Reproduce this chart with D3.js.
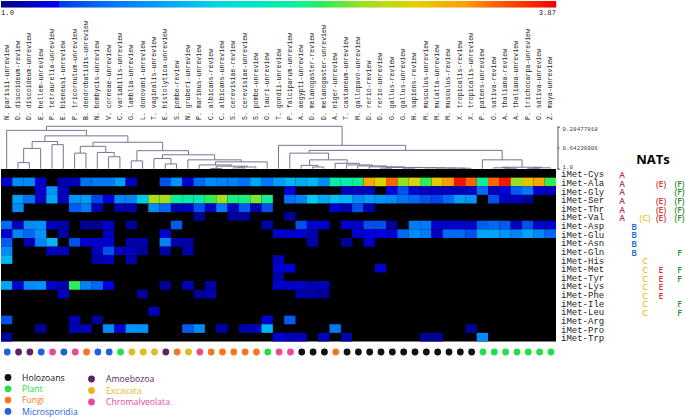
<!DOCTYPE html>
<html>
<head>
<meta charset="utf-8">
<script src="https://cdn.jsdelivr.net/npm/d3@7"></script>
<style>
  body { margin: 0; background: #fff; }
  svg { display: block; }
  .mono { font-family: "Liberation Mono", monospace; fill: #222; }
  .sans { font-family: "Open Sans", "Noto Sans", sans-serif; }
</style>
</head>
<body>
<svg id="chart" width="685" height="418"></svg>
<script>
// 1: DATA
const species = ["N. parisii-unreview","D. discoideum-review","D. discoideum-unreview","E. hellem-unreview","P. tetraurelia-unreview","E. bieneusi-unreview","P. tricornutum-unreview","B. dendrobatidis-unreview","N. bombycis-unreview","V. corneae-unreview","C. variabilis-unreview","G. lamblia-unreview","L. donovani-unreview","T. vaginalis-unreview","E. histolytica-unreview","S. pombe-review","N. gruberi-unreview","P. marinus-unreview","C. albicans-review","C. albicans-unreview","S. cerevisiae-review","S. cerevisiae-unreview","S. pombe-unreview","O. tauri-unreview","T. gondii-unreview","P. falciparum-unreview","A. aegypti-unreview","D. melanogaster-review","D. melanogaster-unreview","A. niger-unreview","T. castaneum-unreview","M. gallopavo-unreview","D. rerio-review","D. rerio-unreview","G. gallus-review","G. gallus-unreview","H. sapiens-review","M. musculus-unreview","M. mulatta-unreview","M. musculus-review","X. tropicalis-review","X. tropicalis-unreview","P. patens-unreview","O. sativa-review","A. thaliana-review","A. thaliana-unreview","P. trichocarpa-unreview","O. sativa-unreview","Z. maya-unreview"];

const trnas = ["iMet-Cys","iMet-Ala","iMet-Gly","iMet-Ser","iMet-Thr","iMet-Val","iMet-Asp","iMet-Glu","iMet-Asn","iMet-Gln","iMet-His","iMet-Met","iMet-Tyr","iMet-Lys","iMet-Phe","iMet-Ile","iMet-Leu","iMet-Arg","iMet-Pro","iMet-Trp"];

// one row per tRNA, one value per species, 0 = no value (black)
const heatValues = [
  [0,0,0,0,0,0,0,0,0,0,0,0,0,0,0,0,0,0,0,0,0,0,0,0,0,0,0,0,0,0,0,0,0,0,0,0,0,0,0,0,0,0,0,0,0,0,0,0,0],
  [1.2,1.7,1.7,1.2,0,1.1,1.15,1.55,1.6,1.6,1.8,1.15,0,0,1.4,1.75,1.2,1.5,1.7,1.65,1.65,1.55,1.85,1.6,1.8,1.95,1.9,1.95,1.7,2.45,2.45,2.55,3.35,3.1,3.55,2.85,3.1,2.65,3.15,3.4,3.8,3.55,2.5,3.55,3.8,2.85,3.2,3.35,2.67],
  [0,0,0,1.2,1.75,1.15,0,0,0,0,0,0,0,0,0,0,0,0,0,0,0,0,0,0,0,1.25,0,0,0,0,1.15,1.15,1.15,0,1.25,1.4,1.2,1.15,1.15,1.15,1.15,1.15,1.5,1.15,1.25,1.45,1.6,1.2,1.15],
  [0,1.8,1.55,1.15,1.85,1.15,1.75,1.8,1.35,1.2,1.65,1.65,2.05,2.9,2.9,2.5,2.45,2.45,2.67,2.87,2.58,2.58,2.8,2.55,0,1.55,1.65,2.05,1.85,2.0,1.95,1.7,1.8,1.75,1.7,1.55,1.5,1.4,1.35,1.5,1.8,1.75,0,1.4,1.15,1.15,1.05,0,0],
  [0,1.7,0,0,0,0,1.45,1.6,1.1,0,1.1,1.1,0,1.7,1.5,1.1,1.15,1.4,1.15,1.6,1.15,1.45,1.1,1.4,0,0,0,0,0,1.2,1.1,1.4,1.1,0,0,0,0,0,0,0,0,0,0,0,0,0,0,0,0],
  [0,0,0,0,0,0,0,0,0,0,0,0,0,0,0,0,0,1.05,0,0,1.05,1.05,0,0,0,1.05,0,0,0,0,0,0,0,0,0,0,0,0,0,0,0,0,0,0,0,0,0,0,0],
  [1.5,1.15,1.7,1.75,1.15,1.1,0,1.05,1.05,1.2,0,1.05,0,0,0,1.45,0,0,0,0,0,0,0,1.1,0,0,1.4,1.2,1.2,0,1.2,1.2,1.4,1.4,1.05,0,1.6,1.6,1.2,1.2,1.2,1.2,1.45,1.5,1.45,1.15,1.4,1.2,1.2],
  [1.2,1.65,1.5,1.75,0,1.05,0,0,0,1.15,0,0,0,0,1.2,0,0,0,0,0,0,0,0,0,1.2,1.2,1.2,1.1,0,0,0,1.2,1.25,1.25,1.2,1.5,1.7,1.6,1.15,1.5,1.5,1.4,1.85,1.85,1.75,1.65,1.85,1.7,1.5],
  [1.45,0,1.1,1.65,1.95,0,1.4,1.2,1.2,1.2,0,1.1,1.1,0,1.65,1.1,1.1,0,0,0,0,0,0,0,0,0,0,1.1,0,0,1.05,0,1.2,0,0,0,0,0,0,0,0,0,0,0,0,0,0,0,0],
  [1.7,0,0,0,1.15,1.15,0,0,1.15,1.4,1.15,1.15,1.05,0,1.1,0,1.1,0,0,0,0,0,0,0,0,0,0,0,0,0,0,0,0,0,0,0,0,0,0,0,0,0,0,0,0,0,0,0,0],
  [1.95,0,0,0,0,0,0,0,1.1,1.15,0,1.1,0,0,0,0,0,0,0,0,0,0,0,0,1.15,0,0,0,0,0,0,0,0,0,0,0,0,0,0,0,0,0,0,0,0,0,0,0,0],
  [0,0,0,0,0,0,0,0,0,0,0,0,0,0,0,0,0,0,0,0,0,0,0,0,1.2,1.2,0,0,0,0,0,0,0,1.2,0,0,0,0,0,0,0,0,0,0,0,0,0,0,0],
  [0,0,0,0,0,0,0,0,0,0,0,0,0,0,0,0,0,0,0,0,0,0,0,0,1.1,0,0,0,0,0,0,0,0,0,0,0,0,0,0,0,0,0,0,0,0,0,0,0,0],
  [1.85,1.2,1.7,1.75,1.2,1.1,2.65,1.65,1.5,1.25,0,0,0,0,1.05,0,1.15,0,1.1,0,0,0,0,0,1.2,1.2,1.2,1.1,1.15,0,0,0,0,0,0,0,0,0,0,0,0,0,0,0,0,0,0,0,0],
  [0,0,0,0,0,1.15,0,0,0,0,0,0,1.05,0,0,0,0,1.05,1.1,0,0,0,0,0,0,0,1.1,1.1,1.05,0,0,0,0,0,0,0,0,0,0,0,0,0,0,0,0,0,0,0,0],
  [0,0,0,0,0,0,0,0,0,0,0,0,0,0,0,0,0,0,0,0,0,0,0,0,0,0,0,0,0,0,0,0,0,0,0,0,0,0,0,0,0,0,0,0,0,0,0,0,0],
  [0,0,0,0,0,0,0,0,0,0,0,0,0,1.15,0,0,0,0,0,0,0,0,0,0,0,0,0,0,0,0,0,0,0,0,0,0,0,0,0,0,0,0,0,0,0,0,0,0,0],
  [1.4,0,0,0,0,0,1.1,0,1.05,0,0,0,0,0,0,0,0,0,0,0,0,0,0,1.2,0,1.45,0,0,0,0,0,0,0,0,0,0,0,0,0,0,0,0,0,0,0,0,0,0,0],
  [0,0,0,1.05,0,0,1.15,1.15,0,1.7,1.2,1.75,1.75,0,0,0,1.45,1.7,0,1.1,0,1.1,1.15,1.95,0,0,0,0,0,1.6,0,0,0,0,0,0,0,0,0,0,0,1.05,0,0,0,0,0,0,0],
  [1.05,0,0,0,0,0,0,0,0,0,0,0,0,0,0,0,0,0,0,0,0,0,0,0,1.2,1.15,1.15,0,1.15,0,1.1,0,0,0,0,0,0,1.05,1.05,0,0,0,1.7,0,0,0,0,0,0]
];

// colour bar stops
const colorStops = [1, 1.299, 1.3, 1.5, 1.77, 2.0, 2.13, 2.35, 2.55, 2.67, 2.87, 3.13, 3.39, 3.56, 3.87];
const colorRange = ["#000088","#0000f0","#0038e8","#0068f4","#0098fa","#00c0f4","#00d8e0","#00e8c0","#10f090","#30ec50","#a0e020","#e0d000","#ffa000","#ff6000","#f00000"];

// dendrogram: [distance, left, right], a number is a species column
const treeLeft = [0.538, [0.654, [0.896, 1, 2], 3], [0.590, 4, 5]];
const treeMiddle = [0.550,
  [0.619, [0.735, 6, 7], [0.723, 8, [0.797, 9, 10]]],
  [0.693, [0.867, 11, 12],
    [0.763, [0.827, 13, [0.919, 14, 15]],
      [0.849, 16, [0.884, [0.936, 17, [0.957, [0.995, 18, 19], [0.971, [0.985, 20, 21], 22]]], 23]]]]];
const treeAnimal = [0.735, 25, [0.849, [0.943, 26, [0.971, 27, 28]],
  [0.908, 29, [0.936, 30, [0.953, 31, [0.968, 32, [0.978, [0.99, 33, 34],
    [0.982, [0.99, 35, 36], [0.985, 37, [0.988, 38, [0.99, 39, [0.992, 40, 41]]]]]]]]]]]];
const treePlant = [0.849, 42, [0.975, [0.985, 43, [0.992, 44, 45]], [0.985, [0.992, 46, 47], 48]]];
const tree = [0.278, [0.347, 0, [0.441, treeLeft, treeMiddle]], [0.602, 24, [0.688, treeAnimal, treePlant]]];

const distTicks = [0.28477818, 0.64238906, 1.0];
const distLabels = ["0.28477818", "0.64238906", "1.0"];

// taxon group per species column
const groups = ["Microsporidia","Amoebozoa","Amoebozoa","Microsporidia","Chromalveolata","Microsporidia","Chromalveolata","Fungi","Microsporidia","Microsporidia","Plant","Excavata","Excavata","Excavata","Amoebozoa","Fungi","Excavata","Chromalveolata","Fungi","Fungi","Fungi","Fungi","Fungi","Plant","Chromalveolata","Chromalveolata","Holozoans","Holozoans","Holozoans","Fungi","Holozoans","Holozoans","Holozoans","Holozoans","Holozoans","Holozoans","Holozoans","Holozoans","Holozoans","Holozoans","Holozoans","Holozoans","Plant","Plant","Plant","Plant","Plant","Plant","Plant"];
const groupColors = { Holozoans: "#111111", Plant: "#22e04a", Fungi: "#f97620", Microsporidia: "#1f5fe0", Amoebozoa: "#5f2169", Excavata: "#e5b922", Chromalveolata: "#ec4899" };
const legendLeft = ["Holozoans", "Plant", "Fungi", "Microsporidia"];
const legendRight = ["Amoebozoa", "Excavata", "Chromalveolata"];

// NAT enzymes: label, colour, tRNA rows
const natColumns = ["A", "B", "C", "E", "F"];
const natColors = { A: "#b5306f", B: "#2a62dc", C: "#f0c030", E: "#e03434", F: "#2f8f2f" };
const natEntries = [
  ["A","A",0],["A","A",1],["A","A",2],["A","A",3],["A","A",4],["A","A",5],
  ["B","B",6],["B","B",7],["B","B",8],["B","B",9],
  ["C","(C)",5],["C","C",10],["C","C",11],["C","C",12],["C","C",13],["C","C",14],["C","C",15],["C","C",16],
  ["E","(E)",1],["E","(E)",3],["E","(E)",4],["E","(E)",5],["E","E",11],["E","E",12],["E","E",13],["E","E",14],
  ["F","(F)",1],["F","(F)",2],["F","(F)",3],["F","(F)",4],["F","(F)",5],["F","F",9],["F","F",11],["F","F",12],["F","F",15],["F","F",16]
];

// 2: SCALES
const svg = d3.select("#chart");

const xScale = d3.scaleBand().domain(d3.range(species.length)).range([1, 556]);
const yScale = d3.scaleBand().domain(d3.range(trnas.length)).range([169, 341.5]);
const colorScale = d3.scaleLinear().domain(colorStops).range(colorRange);
const barScale = d3.scaleLinear().domain([1, 3.87]).range([1, 556]);
const distScale = d3.scaleLinear().domain([0.28477818, 1.0]).range([126.7, 168.7]);
const natX = d3.scaleOrdinal().domain(natColumns).range([622, 634, 645, 661, 679.5]);

// 3: COLOUR BAR
svg.append("g").selectAll("rect")
    .data(d3.range(1, 3.87, 2.87 / 555))
    .enter().append("rect")
    .attr("x", d => barScale(d))
    .attr("y", 1)
    .attr("width", 1.2)
    .attr("height", 6.5)
    .attr("fill", d => colorScale(d));

svg.append("text").attr("class", "mono").attr("x", 1).attr("y", 15)
    .style("font-size", "7.2px").text("1.0");
svg.append("text").attr("class", "mono").attr("x", 556).attr("y", 15)
    .attr("text-anchor", "end").style("font-size", "7.2px").text("3.87");

// 4: SPECIES LABELS
svg.append("g").selectAll("text")
    .data(species)
    .enter().append("text")
    .attr("class", "mono")
    .attr("transform", (d, i) => `translate(${xScale(i) + xScale.bandwidth() / 2 + 2},120) rotate(-90)`)
    .style("font-size", "6.6px")
    .text(d => d);

// 5: DENDROGRAM
const treeLayer = svg.append("g")
    .attr("fill", "none")
    .attr("stroke", "#757595")
    .attr("stroke-width", 1);

function drawNode(node) {
    if (typeof node === "number") {
        return { x: xScale(node) + xScale.bandwidth() / 2, y: distScale(1.0) };
    }
    const left = drawNode(node[1]);
    const right = drawNode(node[2]);
    const y = distScale(node[0]);
    treeLayer.append("path")
        .attr("d", `M${left.x},${left.y}V${y}H${right.x}V${right.y}`);
    return { x: (left.x + right.x) / 2, y: y };
}
drawNode(tree);

const distAxis = svg.append("g")
    .attr("transform", "translate(557.5,0)")
    .call(d3.axisRight(distScale).tickValues(distTicks).tickFormat((d, i) => distLabels[i]).tickSize(2));
distAxis.selectAll("path, line").attr("stroke", "#555");
distAxis.selectAll("text")
    .attr("x", 5)
    .attr("dy", (d, i) => [1.3, 0, -2.3][i] + 2)
    .style("font-family", "'Liberation Mono', monospace")
    .style("font-size", "5.9px")
    .attr("fill", "#444");

// 6: HEATMAP
svg.append("rect")
    .attr("x", 1).attr("y", 169)
    .attr("width", 555).attr("height", 172.5)
    .attr("fill", "#000");

heatValues.forEach((row, r) => {
    svg.append("g").selectAll("rect")
        .data(row.map((v, c) => ({ v, c })).filter(d => d.v > 0))
        .enter().append("rect")
        .attr("x", d => xScale(d.c))
        .attr("y", yScale(r))
        .attr("width", xScale.bandwidth())
        .attr("height", yScale.bandwidth())
        .attr("fill", d => colorScale(d.v));
});

svg.append("g").selectAll("text")
    .data(trnas)
    .enter().append("text")
    .attr("class", "mono")
    .attr("x", 561)
    .attr("y", (d, i) => yScale(i) + yScale.bandwidth() / 2 + 4)
    .style("font-size", "9px")
    .text(d => d);

// 7: NATS
svg.append("text").attr("class", "sans")
    .attr("x", 653).attr("y", 164)
    .attr("text-anchor", "middle")
    .style("font-size", "13px").style("font-weight", 700)
    .text("NATs");

svg.append("g").selectAll("text")
    .data(natEntries)
    .enter().append("text")
    .attr("class", "sans")
    .attr("x", d => natX(d[0]))
    .attr("y", d => yScale(d[2]) + yScale.bandwidth() / 2 + 4.8)
    .attr("text-anchor", "middle")
    .attr("fill", d => natColors[d[0]])
    .style("font-size", "8.6px").style("font-weight", 600)
    .text(d => d[1]);

// 8: GROUP DOTS AND LEGEND
svg.append("g").selectAll("circle")
    .data(groups)
    .enter().append("circle")
    .attr("cx", (d, i) => xScale(i) + xScale.bandwidth() / 2 + 0.6)
    .attr("cy", 352)
    .attr("r", 3.4)
    .attr("fill", d => groupColors[d]);

function addLegend(names, dotX, textX, startY, step) {
    const item = svg.append("g").selectAll("g")
        .data(names)
        .enter().append("g")
        .attr("transform", (d, i) => `translate(0,${startY + i * step})`);
    item.append("circle")
        .attr("cx", dotX).attr("r", 3.4)
        .attr("fill", d => groupColors[d]);
    item.append("text").attr("class", "sans")
        .attr("x", textX).attr("y", 3.3)
        .attr("fill", d => groupColors[d])
        .style("font-size", "8.7px")
        .text(d => d);
}
addLegend(legendLeft, 8, 22, 377.5, 11.3);
addLegend(legendRight, 91.5, 106, 379, 11.5);
</script>
</body>
</html>
